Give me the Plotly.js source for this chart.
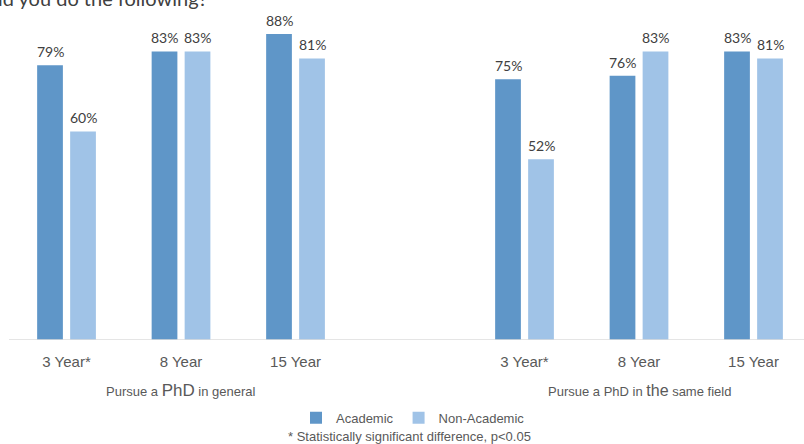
<!DOCTYPE html>
<html>
<head>
<meta charset="utf-8">
<script src="https://cdn.plot.ly/plotly-3.0.1.min.js"></script>
<style>
  html, body { margin: 0; padding: 0; background: #ffffff; }
  #chart { width: 804px; height: 444px; }
</style>
</head>
<body>
<div id="chart"></div>
<script>
// ---- data ----
const groups = ["Pursue a <span style=\"font-size:17px\">PhD</span> in general",
                "Pursue a PhD in <span style=\"font-size:16px\">the</span> same field"];
const periods = ["3 Year*", "8 Year", "15 Year"];
const academic    = [79, 83, 88, 75, 76, 83];
const nonAcademic = [60, 83, 81, 52, 83, 81];
const seriesNames = ["Academic", "Non-Academic"];
const titleText = "ld you do the following?";
const footnote = "* Statistically significant difference, p<0.05";

// category slots: each group of periods, one empty slot between groups
const xs = [], tickText = [];
groups.forEach((g, gi) => periods.forEach((p, pi) => { xs.push(gi * (periods.length + 1) + pi); tickText.push(p); }));

const colors = ["#5f96c8", "#a0c3e7"];
const values = [academic, nonAcademic];

const traces = values.map((v, i) => ({
  type: "bar",
  name: seriesNames[i],
  x: xs,
  y: v,
  marker: { color: colors[i], line: { width: 0 } },
  hoverinfo: "skip"
}));

const annotations = [];
values.forEach((v, i) => {
  v.forEach((val, k) => {
    annotations.push({
      x: xs[k], y: val, xref: "x", yref: "y",
      text: val + "%", showarrow: false,
      xanchor: "center", yanchor: "bottom",
      xshift: i === 0 ? -16.5 : 16.5, yshift: 3,
      font: { family: "Lato, 'Open Sans', sans-serif", size: 14, color: "#404040" }
    });
  });
});
groups.forEach((g, gi) => {
  annotations.push({
    x: gi * (periods.length + 1) + 1, xref: "x",
    y: -0.1485, yref: "paper", yanchor: "middle",
    text: g, showarrow: false,
    font: { family: "'Liberation Sans', Arial, sans-serif", size: 13, color: "#595959" }
  });
});
annotations.push({
  x: 210 / 804, xref: "paper", xanchor: "right",
  y: 1, yref: "paper", yanchor: "middle", yshift: 2,
  text: titleText, showarrow: false,
  font: { family: "Lato, sans-serif", size: 20, color: "#404040" }
});
annotations.push({
  x: 409 / 804, xref: "paper", xanchor: "center",
  y: -0.285, yref: "paper", yanchor: "middle",
  text: footnote, showarrow: false,
  font: { family: "'Liberation Sans', Arial, sans-serif", size: 13, color: "#595959" }
});

const layout = {
  width: 804, height: 444,
  margin: { l: 0, r: 0, t: 0, b: 104 },
  paper_bgcolor: "#ffffff", plot_bgcolor: "#ffffff",
  barmode: "group",
  bargap: 0.4236,
  bargroupgap: 0.22,
  showlegend: true,
  legend: {
    orientation: "h", x: 413 / 804, xanchor: "center",
    y: -0.229, yanchor: "middle",
    font: { family: "'Liberation Sans', Arial, sans-serif", size: 13, color: "#595959" },
    itemwidth: 30, traceorder: "normal"
  },
  xaxis: {
    range: [-0.581, 6.441],
    tickmode: "array", tickvals: xs, ticktext: tickText,
    showgrid: false, zeroline: false, showline: false, ticks: "",
    ticklabelstandoff: 11,
    tickfont: { family: "'Liberation Sans', Arial, sans-serif", size: 15, color: "#595959" },
    fixedrange: true
  },
  yaxis: {
    range: [0, 97.8],
    visible: false, showgrid: false, zeroline: false, fixedrange: true
  },
  shapes: [{
    type: "line", xref: "paper", yref: "y",
    x0: 9 / 804, x1: 1, y0: 0, y1: 0,
    line: { color: "#dcdcdc", width: 1.3 }
  }],
  annotations: annotations
};

Plotly.newPlot("chart", traces, layout, { displayModeBar: false, staticPlot: true });
</script>
</body>
</html>
